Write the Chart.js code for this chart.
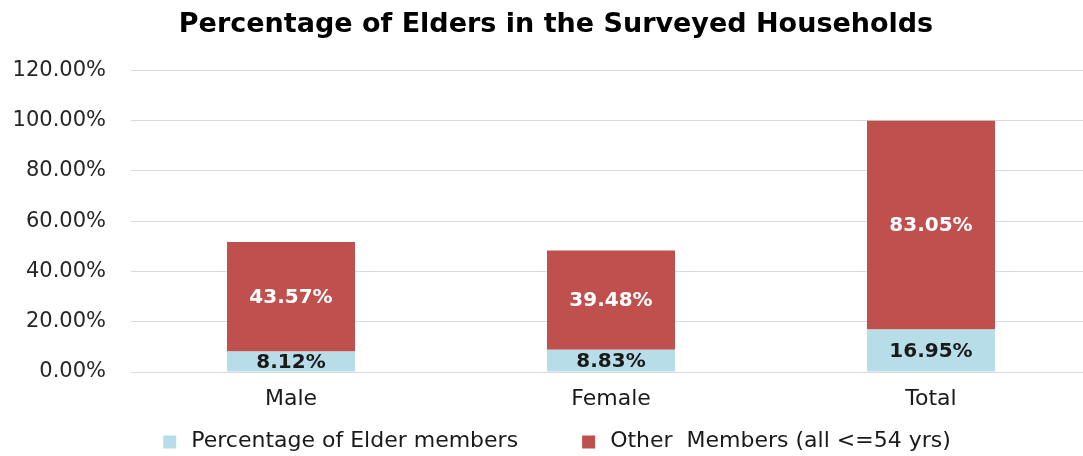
<!DOCTYPE html>
<html>
<head>
<meta charset="utf-8">
<script src="https://cdn.jsdelivr.net/npm/chart.js@4/dist/chart.umd.min.js"></script>
<style>
    html, body { margin: 0; padding: 0; background: #fff; overflow: hidden; }
    #wrap { width: 1112px; height: 456px; }
</style>
</head>
<body>
<div id="wrap"><canvas id="eldersChart" width="1112" height="456"></canvas></div>
<script>
// Data
const categories = ['Male', 'Female', 'Total'];
const elderValues = [8.12, 8.83, 16.95];
const otherValues = [43.57, 39.48, 83.05];
const seriesNames = ['Percentage of Elder members', 'Other  Members (all <=54 yrs)'];
const yTicks = [0, 20, 40, 60, 80, 100, 120];

// write the value inside each bar segment
const segmentLabels = {
    id: 'segmentLabels',
    afterDatasetsDraw(chart) {
        const ctx = chart.ctx;
        ctx.save();
        ctx.font = 'bold 20px "DejaVu Sans"';
        ctx.textAlign = 'center';
        ctx.textBaseline = 'middle';
        chart.data.datasets.forEach((ds, i) => {
            const meta = chart.getDatasetMeta(i);
            meta.data.forEach((bar, j) => {
                const p = bar.getProps(['x', 'y', 'base'], true);
                ctx.fillStyle = ds.labelColor;
                ctx.fillText(ds.data[j].toFixed(2) + '%', p.x, (p.y + p.base) / 2 + 1);
            });
        });
        ctx.restore();
    }
};

// legend drawn below the axis, with a wider gap between the two items than the built-in one allows
const bottomLegend = {
    id: 'bottomLegend',
    afterLayout(chart) {
        // nudge the title so it's centred like the original (which was cropped on the right)
        if (chart.titleBlock) chart.titleBlock.left = 21;
    },
    afterDraw(chart) {
        const ctx = chart.ctx;
        const box = 13, gapAfterBox = 15, itemGap = 64;
        ctx.save();
        ctx.font = '22px "DejaVu Sans"';
        ctx.textBaseline = 'middle';
        const items = chart.data.datasets.map(ds => ({
            text: ds.label,
            color: ds.backgroundColor,
            w: box + gapAfterBox + ctx.measureText(ds.label).width
        }));
        const total = items.reduce((s, it) => s + it.w, 0) + itemGap * (items.length - 1);
        let x = chart.width / 2 + 1 - total / 2;
        const y = chart.chartArea.bottom + 69;
        items.forEach(it => {
            ctx.fillStyle = it.color;
            ctx.fillRect(x, y - box / 2 + 1, box, box);
            ctx.fillStyle = '#1a1a1a';
            ctx.fillText(it.text, x + box + gapAfterBox, y);
            x += it.w + itemGap;
        });
        ctx.restore();
    }
};

const ctx = document.getElementById('eldersChart').getContext('2d');
const chart = new Chart(ctx, {
    type: 'bar',
    data: {
        labels: categories,
        datasets: [{
            label: seriesNames[0],
            data: elderValues,
            backgroundColor: '#B7DEE8',
            labelColor: '#1a1a1a',
            barPercentage: 0.4,
            categoryPercentage: 1
        }, {
            label: seriesNames[1],
            data: otherValues,
            backgroundColor: '#C0504D',
            labelColor: '#ffffff',
            barPercentage: 0.4,
            categoryPercentage: 1
        }]
    },
    options: {
        responsive: false,
        animation: false,
        layout: { padding: { left: 0, right: 21, top: 0, bottom: 44 } },
        scales: {
            x: {
                stacked: true,
                grid: { display: false, drawTicks: false },
                border: { color: '#D9D9D9', width: 1 },
                ticks: { color: '#1a1a1a', font: { family: '"DejaVu Sans"', size: 22 }, padding: 14 },
                afterFit: function(scale) { scale.height = 40; }
            },
            y: {
                stacked: true,
                min: 0,
                max: 120,
                afterBuildTicks: function(scale) {
                    scale.ticks = yTicks.map(v => ({ value: v }));
                },
                grid: { color: '#D9D9D9', drawTicks: false },
                border: { display: false },
                ticks: {
                    color: '#262626',
                    font: { family: '"DejaVu Sans"', size: 21 },
                    padding: 25,
                    callback: function(value) { return value.toFixed(2) + '%'; }
                },
                afterFit: function(scale) { scale.width = 131; }
            }
        },
        plugins: {
            title: {
                display: true,
                text: 'Percentage of Elders in the Surveyed Households',
                color: '#000',
                font: { family: '"DejaVu Sans"', size: 27, weight: 'bold' },
                padding: { top: 9, bottom: 29 }
            },
            legend: { display: false },
            tooltip: { enabled: false }
        }
    },
    plugins: [segmentLabels, bottomLegend]
});
</script>
</body>
</html>
